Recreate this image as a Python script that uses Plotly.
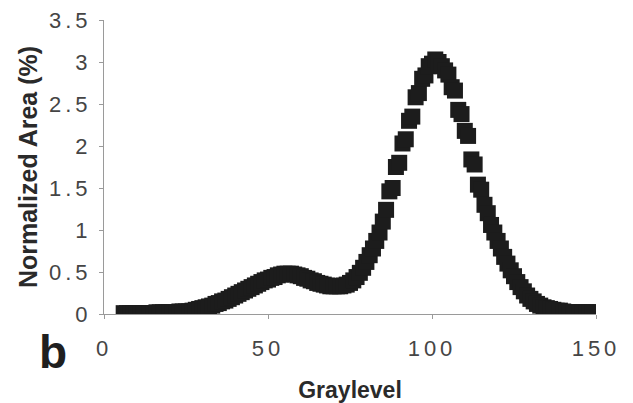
import plotly.graph_objects as go

# Graylevel (x) and normalized area in % (y)
graylevel = list(range(6, 151))
normalized_area = [
    # 6-15
    0.01, 0.01, 0.01, 0.01, 0.01, 0.01, 0.01, 0.01, 0.01, 0.01,
    # 16-25
    0.02, 0.02, 0.02, 0.02, 0.02, 0.02, 0.02, 0.03, 0.03, 0.03,
    # 26-35
    0.03, 0.04, 0.05, 0.06, 0.07, 0.08, 0.09, 0.10, 0.12, 0.13,
    # 36-45
    0.15, 0.16, 0.18, 0.20, 0.22, 0.24, 0.26, 0.28, 0.30, 0.32,
    # 46-55
    0.34, 0.36, 0.38, 0.40, 0.41, 0.43, 0.44, 0.46, 0.47, 0.48,
    # 56-65
    0.48, 0.48, 0.47, 0.46, 0.45, 0.43, 0.42, 0.40, 0.39, 0.37,
    # 66-75
    0.36, 0.35, 0.34, 0.33, 0.33, 0.33, 0.33, 0.34, 0.35, 0.37,
    # 76-85
    0.40, 0.44, 0.49, 0.55, 0.62, 0.70, 0.78, 0.87, 0.97, 1.10,
    # 86-95
    1.24, 1.46, 1.50, 1.75, 1.80, 2.03, 2.08, 2.30, 2.35, 2.58,
    # 96-105
    2.63, 2.80, 2.84, 2.95, 2.98, 3.03, 3.00, 2.95, 2.90, 2.85,
    # 106-115
    2.70, 2.66, 2.43, 2.38, 2.18, 2.12, 1.84, 1.78, 1.54, 1.48,
    # 116-125
    1.30, 1.20, 1.06, 0.97, 0.87, 0.78, 0.68, 0.60, 0.52, 0.45,
    # 126-135
    0.38, 0.32, 0.27, 0.22, 0.18, 0.15, 0.12, 0.10, 0.08, 0.07,
    # 136-145
    0.06, 0.05, 0.04, 0.04, 0.03, 0.02, 0.02, 0.02, 0.02, 0.02,
    # 146-150
    0.02, 0.02, 0.02, 0.02, 0.02,
]

x_ticks = [0, 50, 100, 150]
y_ticks = [0, 0.5, 1, 1.5, 2, 2.5, 3, 3.5]
y_tick_labels = ["0", "0.5", "1", "1.5", "2", "2.5", "3", "3.5"]


def spaced(t):
    return '<span style="letter-spacing:4px">' + t + "</span>"


fig = go.Figure()
fig.add_trace(go.Scatter(
    x=graylevel,
    y=normalized_area,
    mode="markers",
    marker=dict(symbol="square", size=16, color="#1c1c1c", line=dict(width=0)),
    showlegend=False,
))

axis_font = dict(family="Liberation Sans, Arial, sans-serif", size=22, color="#454545")
title_font = dict(family="Liberation Sans, Arial, sans-serif", color="#2a2a2a", weight="bold")

fig.update_layout(
    width=633,
    height=403,
    paper_bgcolor="white",
    plot_bgcolor="white",
    margin=dict(l=104, r=37, t=20, b=89, autoexpand=False),
    xaxis=dict(
        range=[0, 150],
        tickvals=x_ticks,
        ticktext=[spaced(str(v)) for v in x_ticks],
        showgrid=False,
        zeroline=False,
        showline=True,
        linecolor="#9a9a9a",
        linewidth=1,
        ticks="outside",
        ticklen=4,
        tickcolor="#9a9a9a",
        tickfont=axis_font,
        ticklabelstandoff=11,
        title=dict(text="Graylevel", font=dict(size=23, **title_font), standoff=21),
        automargin=False,
    ),
    yaxis=dict(
        range=[0, 3.5],
        tickvals=y_ticks,
        ticktext=[spaced(t) for t in y_tick_labels],
        showgrid=False,
        zeroline=False,
        showline=True,
        linecolor="#9a9a9a",
        linewidth=1,
        ticks="outside",
        ticklen=4,
        tickcolor="#9a9a9a",
        tickfont=axis_font,
        ticklabelstandoff=3,
        title=dict(text="Normalized Area (%)", font=dict(size=25, **title_font), standoff=4),
        automargin=False,
    ),
    annotations=[
        dict(
            text="b",
            xref="paper", yref="paper",
            x=(53 - 104) / 492, y=-(352 - 314) / 294,
            xanchor="center", yanchor="middle",
            showarrow=False,
            font=dict(family="Liberation Sans, Arial, sans-serif", size=46, color="#1f1f1f", weight="bold"),
        )
    ],
)

fig.write_html(
    "out.html",
    config={"displayModeBar": False},
    post_script="document.body.style.margin='0';document.body.style.overflow='hidden';",
)
